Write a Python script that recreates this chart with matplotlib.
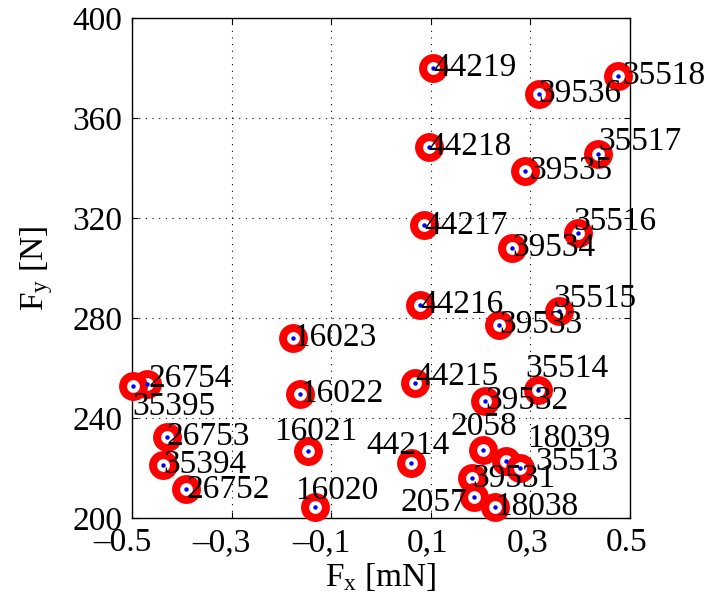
import matplotlib
matplotlib.use("Agg")
import matplotlib.pyplot as plt
from matplotlib.transforms import ScaledTranslation

plt.rcParams['font.family'] = ['Liberation Serif', 'DejaVu Serif']
plt.rcParams['mathtext.fontset'] = 'custom'
plt.rcParams['mathtext.rm'] = 'Liberation Serif'
plt.rcParams['mathtext.it'] = 'Liberation Serif'

# point ids and forces
names = ['44219', '39536', '35518', '44218', '39535', '35517', '44217', '39534',
         '35516', '44216', '39533', '35515', '44215', '35514', '39532', '2058',
         '18039', '35513', '39531', '2057', '18038', '44214', '16020', '16021',
         '16022', '16023', '26754', '35395', '26753', '35394', '26752']
fx = [0.105, 0.317, 0.476, 0.096, 0.290, 0.436, 0.087, 0.264,
      0.397, 0.079, 0.237, 0.357, 0.069, 0.316, 0.209, 0.205,
      0.251, 0.279, 0.184, 0.188, 0.230, 0.060, -0.133, -0.147,
      -0.162, -0.177, -0.469, -0.499, -0.430, -0.437, -0.391]
fy = [380.1, 369.6, 376.8, 348.5, 338.9, 345.5, 317.1, 308.1,
      314.1, 285.3, 277.3, 282.9, 253.9, 251.2, 246.8, 227.2,
      222.9, 219.9, 215.9, 208.3, 204.5, 222.1, 204.3, 226.9,
      249.6, 272.1, 253.6, 252.8, 232.5, 221.2, 211.5]

xticks = [-0.5, -0.3, -0.1, 0.1, 0.3, 0.5]
xticklabels = ['\u20130.5', '\u20130,3', '\u20130,1', '0,1', '0,3', '0.5']
yticks = [200, 240, 280, 320, 360, 400]

# label shifts (points) where a label was moved off its point
shift = {'35517': (0, 9), '35516': (-4, 8), '35515': (-4, 9), '44215': (0, 5),
         '35514': (-9, 15), '2058': (-23, 17), '18039': (15, 16), '35513': (11, 5),
         '2057': (-53, -4), '44214': (-32, 12), '16021': (-24, 14), '16020': (-14, 12),
         '26754': (1, 4), '35395': (0, -15), '35518': (3, 0), '39535': (3, 0)}

fig = plt.figure(figsize=(7.06, 6.07), dpi=100)
ax = fig.add_axes([0.187, 0.1466, 0.705, 0.8236])

ax.plot(fx, fy, 'o', ms=15, mew=5.8, mec='red', mfc='white', ls='none',
        clip_on=False, zorder=3)
ax.plot(fx, fy, 'o', ms=3.2, mew=0, mfc='blue', ls='none', clip_on=False, zorder=4)

for n, x, y in zip(names, fx, fy):
    dx, dy = shift.get(n, (0, 0))
    ax.annotate(n, (x, y), xytext=(dx, dy), textcoords='offset points',
                ha='left', va='center', fontsize=24, zorder=5)

ax.set_xlim(-0.5, 0.5)
ax.set_ylim(200, 400)
ax.set_xticks(xticks)
ax.set_xticklabels(xticklabels)
ax.set_yticks(yticks)
ax.tick_params(direction='in', length=4, width=0.8, top=True, right=True,
               labelsize=24, pad=7)
ax.grid(True, color='black', ls=(0, (1, 5)), lw=0.8)
for s in ax.spines.values():
    s.set_linewidth(1.0)

# negative labels sit a little left of their ticks in the original
for lab, t in zip(ax.get_xticklabels(), xticks):
    dx = -7 if t < 0 else -2
    lab.set_transform(lab.get_transform() + ScaledTranslation(dx / 72, 0, fig.dpi_scale_trans))

ax.set_xlabel(r'F$_\mathrm{x}$ [mN]', fontsize=24)
ax.set_ylabel(r'F$_\mathrm{y}$ [N]', fontsize=24)
ax.xaxis.set_label_coords(0.5, -0.085)
ax.yaxis.set_label_coords(-0.155, 0.5)

fig.savefig('out.png', dpi=100)
